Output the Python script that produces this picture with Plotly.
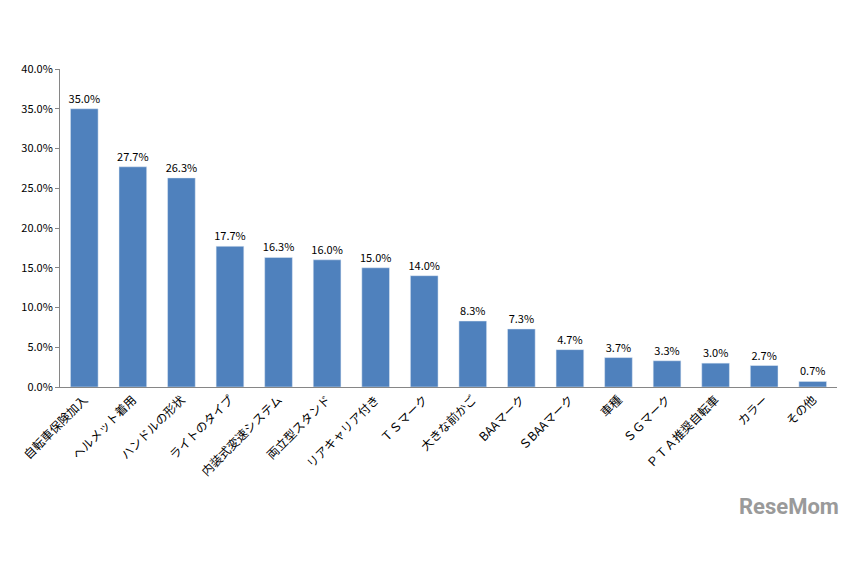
import plotly.graph_objects as go

categories = ["自転車保険加入", "ヘルメット着用", "ハンドルの形状", "ライトのタイプ", "内装式変速システム",
              "両立型スタンド", "リアキャリア付き", "ＴＳマーク", "大きな前かご", "BAAマーク",
              "ＳBAAマーク", "車種", "ＳＧマーク", "ＰＴＡ推奨自転車", "カラー", "その他"]
values = [35.0, 27.7, 26.3, 17.7, 16.3, 16.0, 15.0, 14.0, 8.3, 7.3, 4.7, 3.7, 3.3, 3.0, 2.7, 0.7]

fig = go.Figure(go.Bar(
    x=categories, y=values,
    marker_color="#4F81BD",
    text=[f"{v:.1f}%" for v in values],
    textposition="outside",
    textfont=dict(size=11, color="black"),
    cliponaxis=False,
))

fig.update_layout(
    width=848, height=565,
    margin=dict(l=39, r=19, t=61, b=186),
    paper_bgcolor="white", plot_bgcolor="white",
    font=dict(family="Noto Sans CJK JP", size=11, color="black"),
    bargap=0.43,
    showlegend=False,
    uniformtext=dict(minsize=11, mode="show"),
)
fig.update_yaxes(range=[0, 40], dtick=5, ticksuffix=".0%", tickformat="d",
                 showgrid=False, showline=True, linecolor="#868686", ticks="outside",
                 ticklen=4, tickcolor="#868686", zeroline=False)
fig.update_xaxes(tickangle=-45, showline=True, linecolor="#868686", ticks="",
                 tickfont=dict(size=12))
fig.add_annotation(text="<b>ReseMom</b>", xref="paper", yref="paper", x=1.005, y=-0.33,
                   xanchor="right", yanchor="top", showarrow=False,
                   font=dict(size=22, color="#9a9a9a", family="Roboto"))

fig.write_html("out.html")
